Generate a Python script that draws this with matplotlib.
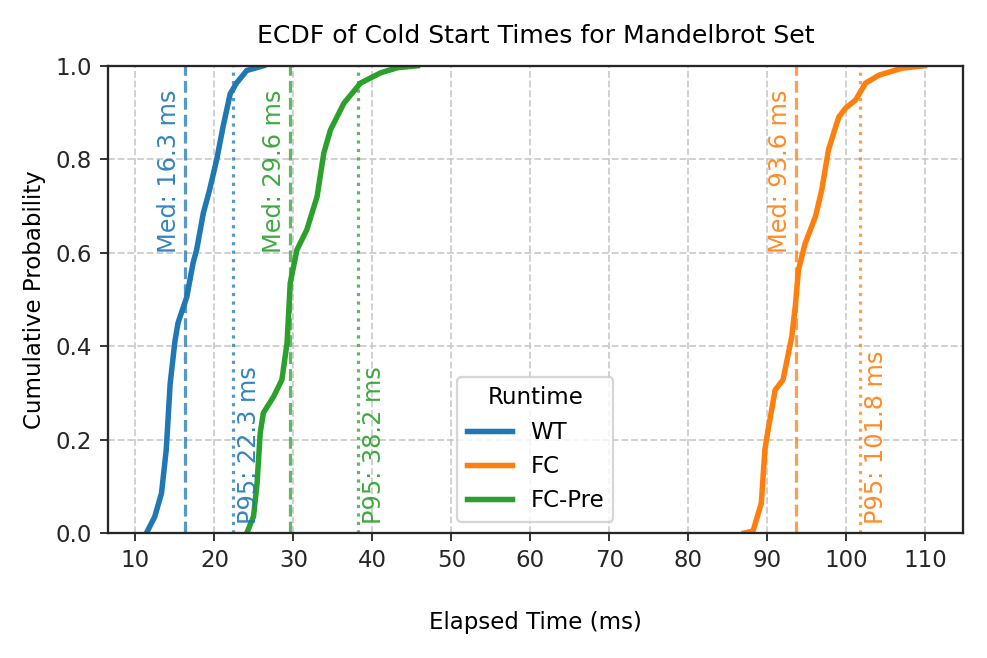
import numpy as np
import matplotlib
matplotlib.use("Agg")
import matplotlib.pyplot as plt

# ECDF points (elapsed ms, cumulative probability)
runtimes = ["WT", "FC", "FC-Pre"]
colors = ["#1f77b4", "#ff7f0e", "#2ca02c"]

wt_ms = [11.4, 12.45, 13.3, 13.9, 14.4, 15.0, 15.4, 16.5, 17.3, 17.75, 18.6, 19.4,
         20.3, 21.1, 22.0, 22.8, 24.1, 26.2]
wt_p = [0.0, 0.035, 0.085, 0.178, 0.32, 0.41, 0.45, 0.505, 0.578, 0.606, 0.685, 0.735,
        0.80, 0.87, 0.94, 0.963, 0.99, 1.0]

fc_ms = [87.1, 88.2, 89.25, 89.7, 90.1, 91.0, 92.0, 93.1, 93.55, 93.95, 94.8, 96.1,
         96.9, 97.75, 99.05, 99.9, 101.2, 102.45, 104.15, 107.1, 109.9]
fc_p = [0.0, 0.004, 0.064, 0.178, 0.22, 0.306, 0.328, 0.42, 0.485, 0.563, 0.62, 0.677,
        0.734, 0.82, 0.89, 0.909, 0.927, 0.963, 0.98, 0.995, 1.0]

pre_ms = [24.1, 24.95, 25.4, 25.8, 26.2, 27.5, 28.55, 29.2, 29.6, 30.45, 31.7, 33.0,
          33.85, 34.7, 36.4, 38.5, 41.05, 43.2, 45.7]
pre_p = [0.0, 0.035, 0.106, 0.214, 0.257, 0.292, 0.328, 0.407, 0.535, 0.606, 0.649, 0.72,
         0.813, 0.863, 0.92, 0.963, 0.985, 0.996, 1.0]

medians = [16.3, 93.6, 29.6]
p95s = [22.3, 101.8, 38.2]

series = [(wt_ms, wt_p), (fc_ms, fc_p), (pre_ms, pre_p)]

plt.rcParams['font.family'] = ['DejaVu Sans']
fig, ax = plt.subplots(figsize=(6, 4), dpi=164.5)
fig.subplots_adjust(left=0.109, right=0.976, top=0.9, bottom=0.19)

for name, (xs, ps), c in zip(runtimes, series, colors):
    ax.plot(xs, ps, color=c, lw=2.4, label=name)

for med, p95, c in zip(medians, p95s, colors):
    ax.axvline(med, color=c, ls='--', lw=1.4, alpha=0.75)
    ax.axvline(p95, color=c, ls=':', lw=1.4, alpha=0.75)
    ax.text(med - 0.5, 0.95, f"Med: {med:.1f} ms", rotation=90, color=c,
            ha='right', va='top', fontsize=10.5, alpha=0.9)
    ax.text(p95 + 0.5, 0.02, f"P95: {p95:.1f} ms", rotation=90, color=c,
            ha='left', va='bottom', fontsize=10.5, alpha=0.9)

ax.set_ylim(0, 1)
ax.set_xticks(np.arange(10, 111, 10))
ax.set_yticks(np.arange(0, 1.01, 0.2))
ax.grid(True, ls='--', color='#c8c8c8', lw=0.8, alpha=0.9)
for s in ax.spines.values():
    s.set_color('#262626')
    s.set_linewidth(1.0)
ax.tick_params(colors='#262626', labelsize=10)

ax.set_title("ECDF of Cold Start Times for Mandelbrot Set", fontsize=11, pad=10)
ax.set_xlabel("Elapsed Time (ms)", fontsize=10, labelpad=17)
ax.set_ylabel("Cumulative Probability", fontsize=10)

ax.legend(title="Runtime", loc='lower center', fontsize=10, title_fontsize=10,
          frameon=True)

fig.savefig("out.png", dpi=164.5)
